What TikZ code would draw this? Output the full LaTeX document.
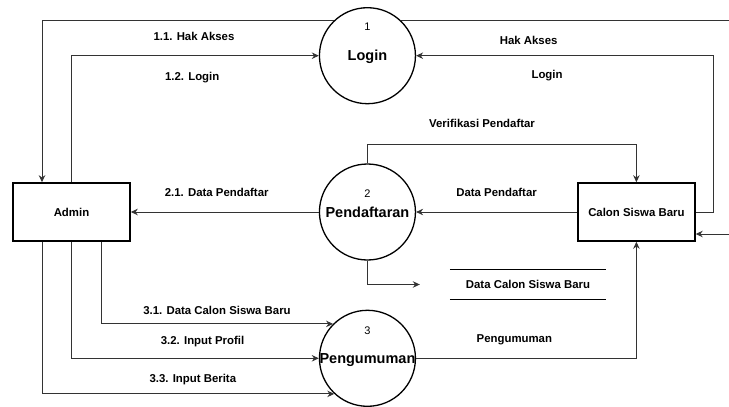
\documentclass[tikz,border=0pt]{standalone}
\usepackage{fontspec}
\setmainfont{Liberation Sans}
\usetikzlibrary{arrows.meta, positioning}

\begin{document}
\begin{tikzpicture}[
    x=1pt, y=-1pt,
    ent/.style={draw, line width=1.6pt, minimum width=117pt, minimum height=58pt, inner sep=0pt,
      font=\fontsize{11.4}{13}\selectfont\bfseries, text height=8.2pt, text depth=0pt},
    proc/.style={draw, circle, line width=1.3pt, minimum size=96pt, inner sep=0pt, fill=white},
    ptitle/.style={inner sep=0pt, font=\fontsize{14.5}{16}\selectfont\bfseries, text height=10.4pt, text depth=0pt},
    pnum/.style={inner sep=0pt, font=\fontsize{11}{13}\selectfont, text height=7.9pt, text depth=0pt},
    lbl/.style={inner sep=0pt, font=\fontsize{11.4}{13}\selectfont\bfseries, text height=8.2pt, text depth=0pt},
    store/.style={minimum width=156pt, minimum height=29pt, inner sep=0pt,
      font=\fontsize{11.4}{13}\selectfont\bfseries, text height=8.2pt, text depth=0pt},
    wire/.style={draw=black!80, line width=0.9pt},
    flow/.style={wire, -{Stealth[length=7pt, width=6.5pt]}}
  ]
    \useasboundingbox (0,0) rectangle (729,407);

    % entities and processes
    \node[ent] (admin) at (71.5,212) {Admin};
    \node[proc, right=188pt of admin] (pend) {};
    \node[ent, right=161pt of pend] (calon) {Calon Siswa Baru};
    \node[proc, above=59pt of pend] (login) {};
    \node[proc, below=49pt of pend] (peng) {};

    \node[ptitle] (loginT) at (login) {Login};
    \node[pnum] (loginN) at ([yshift=29pt]login.center) {1};
    \node[ptitle] (pendT) at (pend) {Pendaftaran};
    \node[pnum] (pendN) at ([yshift=18pt]pend.center) {2};
    \node[ptitle] (pengT) at (peng) {Pengumuman};
    \node[pnum] (pengN) at ([yshift=28pt]peng.center) {3};

    % data store
    \node[store] (ds) at (528,284.5) {Data Calon Siswa Baru};
    \draw[line width=1pt] (ds.north west) -- (ds.north east) (ds.south west) -- (ds.south east);

    \coordinate (edgeR) at (729,0);
    \coordinate (edgeB) at (729,234);

    % login flows
    \draw[flow] (login.133) -| node[lbl, pos=0.24, below=12pt] {1.1. Hak Akses} ([xshift=-29.5pt]admin.north);
    \draw[flow] (admin.north) |- node[lbl, pos=0.744, below=16pt] {1.2. Login} (login.west);
    \draw[wire] (login.47) -- node[lbl, pos=0.39, below=16pt] {Hak Akses} (login.47 -| edgeR);
    \draw[flow] (edgeB) -- (edgeB -| calon.east);
    \draw[flow] (calon.east) -- ++(18,0) |- node[lbl, pos=0.78, below=14pt] {Login} (login.east);

    % pendaftaran flows
    \draw[flow] (pend.west) -- node[lbl, pos=0.543, above=15pt] {2.1. Data Pendaftar} (admin.east);
    \draw[flow] (calon.west) -- node[lbl, midway, above=15pt] {Data Pendaftar} (pend.east);
    \draw[flow] (pend.north) -- ++(0,-19) -| node[lbl, pos=0.213, above=16pt] {Verifikasi Pendaftar} (calon.north);
    \draw[flow] (pend.south) |- ([xshift=-30pt]ds.west);

    % pengumuman flows
    \draw[flow] ([xshift=29.5pt]admin.south) |- node[lbl, pos=0.75, above=9pt] {3.1. Data Calon Siswa Baru} (peng.135);
    \draw[flow] (admin.south) |- node[lbl, pos=0.765, above=13.5pt] {3.2. Input Profil} (peng.west);
    \draw[flow] ([xshift=-29.5pt]admin.south) |- node[lbl, pos=0.758, above=10.5pt] {3.3. Input Berita} (peng.227);
    \draw[flow] (peng.east) -| node[lbl, pos=0.223, above=15pt] {Pengumuman} (calon.south);
  \end{tikzpicture}
\end{document}
